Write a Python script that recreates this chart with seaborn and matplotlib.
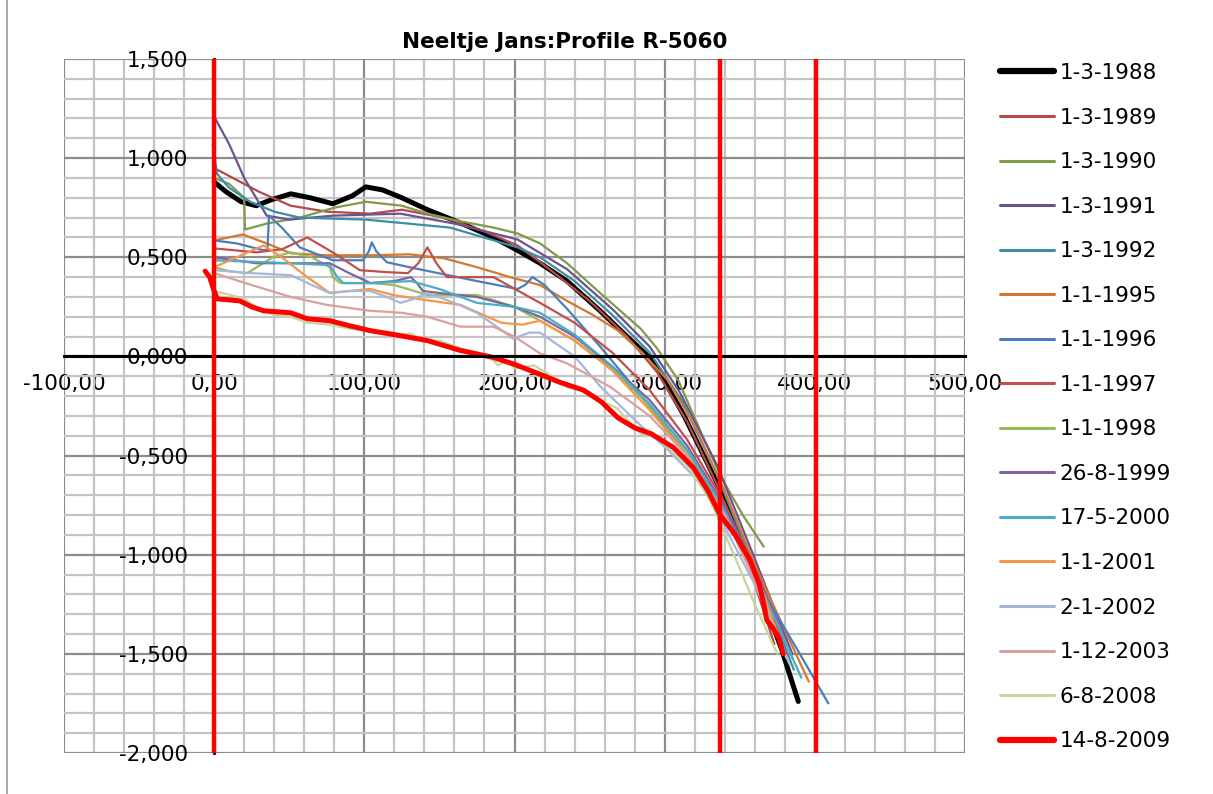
import numpy as np
import pandas as pd
import matplotlib
matplotlib.use("Agg")
import matplotlib.pyplot as plt
from matplotlib.lines import Line2D
import seaborn as sns

sns.set_style("white")
plt.rcParams['font.family'] = ['DejaVu Sans']
plt.rcParams['text.color'] = 'black'

title = "Neeltje Jans:Profile R-5060"

x_ticks = [-100, 0, 100, 200, 300, 400, 500]
x_ticklabels = ["-100,00", "0,00", "100,00", "200,00", "300,00", "400,00", "500,00"]
y_ticks = [1.5, 1.0, 0.5, 0.0, -0.5, -1.0, -1.5, -2.0]
y_ticklabels = ["1,500", "1,000", "0,500", "0,000", "-0,500", "-1,000", "-1,500", "-2,000"]

red_lines_x = [0, 337, 401]

labels = ["1-3-1988", "1-3-1989", "1-3-1990", "1-3-1991", "1-3-1992", "1-1-1995",
          "1-1-1996", "1-1-1997", "1-1-1998", "26-8-1999", "17-5-2000", "1-1-2001",
          "2-1-2002", "1-12-2003", "6-8-2008", "14-8-2009"]

colors = ["#000000", "#B7494A", "#7F9B48", "#6A5490", "#3B8EA5", "#D4772F",
          "#4A7EBB", "#C0504D", "#9BBB59", "#8064A2", "#4BACC6", "#F79646",
          "#A5B8DA", "#D9A09E", "#C3D69B", "#FF0000"]

x1988 = [0, 8, 18, 28, 38, 51, 64, 79, 92, 101, 112, 125, 142, 165, 186, 202, 217, 235, 257, 275, 292, 313, 335, 350, 366, 378, 389]
y1988 = [0.88, 0.83, 0.78, 0.76, 0.79, 0.82, 0.80, 0.77, 0.81, 0.855, 0.84, 0.80, 0.74, 0.67, 0.60, 0.535, 0.47, 0.38, 0.23, 0.10, -0.02, -0.30, -0.64, -0.92, -1.23, -1.48, -1.74]

x1989 = [0, 15, 30, 51, 75, 104, 125, 153, 180, 202, 225, 250, 275, 295, 315, 335, 355, 373]
y1989 = [0.95, 0.89, 0.83, 0.76, 0.73, 0.72, 0.74, 0.70, 0.63, 0.56, 0.43, 0.28, 0.10, -0.08, -0.33, -0.65, -1.03, -1.45]

x1990 = [0, 10, 20, 20.5, 35, 57, 80, 101, 125, 142, 165, 186, 202, 217, 235, 257, 284, 295, 309, 324, 337, 352, 366]
y1990 = [0.90, 0.87, 0.80, 0.64, 0.67, 0.70, 0.75, 0.78, 0.76, 0.72, 0.68, 0.65, 0.62, 0.57, 0.47, 0.32, 0.14, 0.04, -0.12, -0.38, -0.60, -0.80, -0.96]

x1991 = [0, 10, 20, 35, 50, 79, 124, 160, 202, 235, 265, 290, 310, 335, 360, 385]
y1991 = [1.21, 1.07, 0.90, 0.71, 0.69, 0.71, 0.72, 0.67, 0.59, 0.44, 0.24, 0.05, -0.18, -0.55, -1.02, -1.50]

x1992 = [-1, 2, 10, 24, 40, 57, 101, 157, 202, 217, 240, 265, 290, 312, 335, 360, 386]
y1992 = [1.07, 0.92, 0.85, 0.78, 0.73, 0.70, 0.69, 0.65, 0.55, 0.50, 0.38, 0.21, 0.02, -0.23, -0.60, -1.07, -1.58]

x1995 = [0, 19, 35, 51, 75, 104, 130, 153, 175, 197, 217, 235, 252, 269, 285, 302, 320, 340, 360, 380, 396]
y1995 = [0.585, 0.615, 0.57, 0.52, 0.51, 0.51, 0.515, 0.495, 0.45, 0.40, 0.36, 0.28, 0.21, 0.13, 0.02, -0.12, -0.35, -0.68, -1.05, -1.38, -1.64]

x1996 = [0, 15, 33, 35.5, 36.5, 45, 57, 79, 99, 103, 105, 108, 115, 130, 146, 175, 202, 207, 212, 220, 235, 257, 279, 300, 320, 340, 365, 390, 409]
y1996 = [0.585, 0.57, 0.535, 0.54, 0.71, 0.65, 0.55, 0.485, 0.485, 0.53, 0.575, 0.53, 0.475, 0.45, 0.425, 0.38, 0.34, 0.36, 0.40, 0.36, 0.24, 0.05, -0.15, -0.35, -0.55, -0.80, -1.18, -1.50, -1.75]

x1997 = [0, 28, 45, 62, 80, 97, 115, 129, 136, 142, 148, 155, 186, 217, 240, 265, 290, 315, 340, 360, 378]
y1997 = [0.545, 0.525, 0.54, 0.60, 0.52, 0.435, 0.425, 0.42, 0.47, 0.55, 0.47, 0.40, 0.40, 0.27, 0.17, 0.02, -0.17, -0.42, -0.74, -1.08, -1.42]

x1998 = [0, 10, 22, 39, 51, 65, 77, 79, 84, 104, 120, 142, 175, 200, 217, 240, 265, 290, 315, 340, 360, 375]
y1998 = [0.45, 0.43, 0.42, 0.50, 0.525, 0.50, 0.45, 0.40, 0.37, 0.37, 0.36, 0.31, 0.31, 0.25, 0.18, 0.08, -0.06, -0.25, -0.48, -0.80, -1.12, -1.40]

x1999 = [0, 28, 50, 77, 90, 104, 120, 131, 135, 139, 150, 175, 200, 217, 240, 265, 290, 315, 340, 362, 385]
y1999 = [0.50, 0.47, 0.47, 0.47, 0.42, 0.37, 0.38, 0.40, 0.37, 0.33, 0.32, 0.30, 0.25, 0.20, 0.10, -0.05, -0.22, -0.45, -0.76, -1.10, -1.52]

x2000 = [0, 51, 77, 82, 86, 104, 131, 150, 175, 200, 217, 240, 265, 290, 315, 340, 365, 391]
y2000 = [0.485, 0.47, 0.46, 0.40, 0.37, 0.37, 0.38, 0.34, 0.27, 0.25, 0.22, 0.11, -0.05, -0.24, -0.47, -0.78, -1.18, -1.62]

x2001 = [0, 15, 33, 45, 62, 77, 90, 104, 119, 140, 164, 191, 205, 217, 240, 265, 290, 315, 340, 362, 381]
y2001 = [0.45, 0.50, 0.56, 0.50, 0.40, 0.32, 0.33, 0.34, 0.31, 0.285, 0.26, 0.17, 0.16, 0.18, 0.08, -0.07, -0.27, -0.50, -0.80, -1.12, -1.52]

x2002 = [0, 25, 51, 65, 77, 90, 104, 115, 124, 133, 142, 160, 175, 190, 199, 210, 217, 240, 257, 280, 302, 324, 340, 360, 383]
y2002 = [0.435, 0.42, 0.41, 0.36, 0.32, 0.33, 0.33, 0.30, 0.27, 0.29, 0.32, 0.27, 0.22, 0.14, 0.09, 0.12, 0.12, 0.00, -0.15, -0.32, -0.47, -0.64, -0.86, -1.15, -1.55]

x2003 = [0, 25, 51, 75, 104, 125, 142, 164, 186, 200, 217, 235, 264, 290, 315, 340, 355, 370]
y2003 = [0.42, 0.36, 0.30, 0.26, 0.23, 0.22, 0.20, 0.15, 0.15, 0.10, 0.015, -0.035, -0.155, -0.30, -0.50, -0.80, -1.05, -1.30]

x2008 = [0, 5, 11, 20, 30, 40, 51, 62, 77, 90, 104, 118, 131, 140, 150, 164, 175, 186, 189, 195, 200, 213, 225, 235, 246, 257, 268, 284, 293, 302, 315, 330, 345, 360, 375]
y2008 = [0.33, 0.32, 0.31, 0.29, 0.24, 0.21, 0.20, 0.17, 0.16, 0.14, 0.13, 0.11, 0.115, 0.08, 0.08, 0.04, 0.02, -0.02, -0.045, -0.02, -0.06, -0.045, -0.10, -0.155, -0.17, -0.22, -0.26, -0.39, -0.40, -0.46, -0.55, -0.72, -0.98, -1.25, -1.50]

x2009 = [-6, -3, 0, 2, 10, 17, 25, 33, 42, 51, 62, 77, 90, 104, 120, 142, 164, 186, 200, 217, 230, 246, 258, 269, 280, 291, 306, 319, 329, 337, 347, 357, 363, 366, 368, 372, 376, 379]
y2009 = [0.43, 0.40, 0.33, 0.29, 0.285, 0.28, 0.25, 0.23, 0.225, 0.22, 0.19, 0.18, 0.155, 0.13, 0.11, 0.08, 0.03, -0.005, -0.04, -0.09, -0.13, -0.17, -0.23, -0.31, -0.36, -0.39, -0.46, -0.56, -0.68, -0.80, -0.90, -1.03, -1.15, -1.25, -1.33, -1.37, -1.42, -1.50]

series_x = [x1988, x1989, x1990, x1991, x1992, x1995, x1996, x1997, x1998, x1999, x2000, x2001, x2002, x2003, x2008, x2009]
series_y = [y1988, y1989, y1990, y1991, y1992, y1995, y1996, y1997, y1998, y1999, y2000, y2001, y2002, y2003, y2008, y2009]
thick = {"1-3-1988", "14-8-2009"}

frames = []
for lab, xs, ys in zip(labels, series_x, series_y):
    frames.append(pd.DataFrame({"x": xs, "y": ys, "date": lab, "order": np.arange(len(xs))}))
df = pd.concat(frames, ignore_index=True)

W, H = 1213, 794
fig = plt.figure(figsize=(W / 100, H / 100), dpi=100)
ax = fig.add_axes([64 / W, 1 - 753 / H, (965 - 64) / W, (753 - 59) / H])

handles = []
for i, lab in enumerate(labels):
    sub = df[df["date"] == lab]
    lw = 3.6 if lab in thick else 1.6
    sns.lineplot(data=sub, x="x", y="y", sort=False, estimator=None, color=colors[i],
                 lw=lw, ax=ax, legend=False, zorder=3 + i * 0.01)
    handles.append(Line2D([0], [0], color=colors[i], lw=(4.5 if lab in thick else 2.2),
                          solid_capstyle='round'))

for xv in red_lines_x:
    ax.axvline(xv, color="#FF0000", lw=3.2, zorder=6)

ax.set_xlim(-100, 500)
ax.set_ylim(-2.0, 1.5)
ax.set_xticks(x_ticks)
ax.set_xticklabels(x_ticklabels)
ax.set_yticks(y_ticks)
ax.set_yticklabels(y_ticklabels)
ax.set_xticks(np.arange(-100, 501, 20), minor=True)
ax.set_yticks(np.arange(-2.0, 1.51, 0.1), minor=True)
ax.grid(which="major", color="#8C8C8C", lw=1.6)
ax.grid(which="minor", color="#C4C4C4", lw=1.6)
ax.set_axisbelow(True)
ax.set_xlabel("")
ax.set_ylabel("")

for s in ["top", "right"]:
    ax.spines[s].set_visible(False)
ax.spines["bottom"].set_position(("data", 0))
ax.spines["left"].set_position(("data", 0))
ax.spines["bottom"].set_color("black")
ax.spines["bottom"].set_linewidth(2.2)
ax.spines["bottom"].set_zorder(4)
ax.spines["left"].set_color("black")
ax.spines["left"].set_linewidth(2)

ax.tick_params(axis="x", which="major", direction="out", length=6, width=2, color="black",
               labelcolor="black", labelsize=15.5, pad=7)
ax.tick_params(axis="y", which="major", direction="out", length=7, width=2, color="black",
               labelcolor="black", labelsize=15.5, pad=12)
ax.tick_params(which="minor", length=0)

fig.text(565 / W, 1 - 42 / H, title, ha="center", va="center", fontsize=15.5,
         fontweight="bold", color="black")

leg = fig.legend(handles, labels, loc="upper left", bbox_to_anchor=(1000 / W, 1 - 63 / H),
                 frameon=False, borderpad=0, borderaxespad=0, fontsize=15.5,
                 handlelength=2.5, handletextpad=0.25, labelspacing=1.14)
for t in leg.get_texts():
    t.set_color("black")

fig.add_artist(Line2D([7 / W, 7 / W], [0, 1], color="#9A9A9A", lw=1.2, transform=fig.transFigure))

fig.savefig("out.png", dpi=100)
